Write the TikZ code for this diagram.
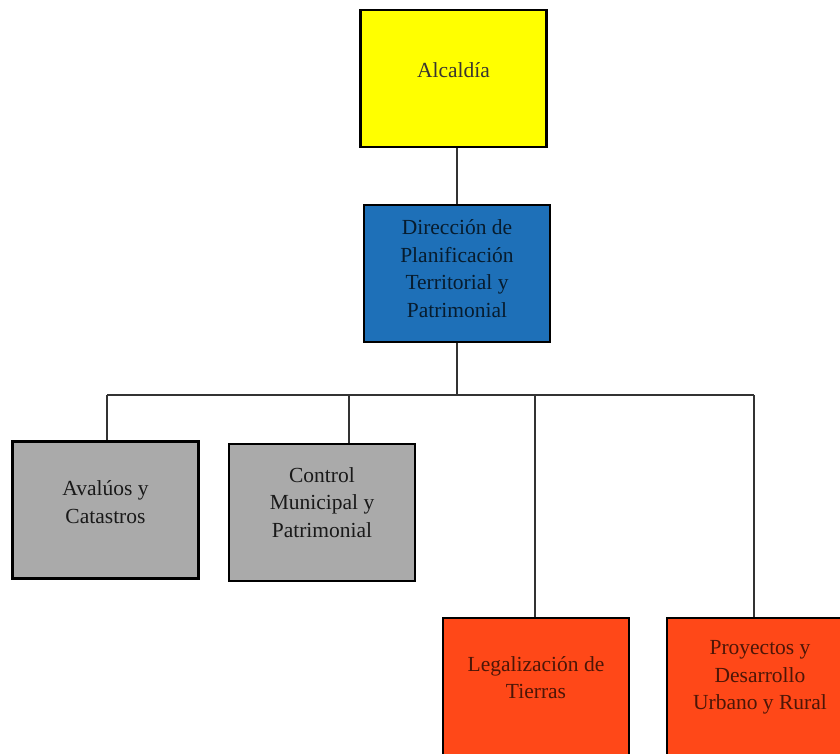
\documentclass[tikz,border=0pt]{standalone}
\usepackage{fontspec}
\setmainfont{Liberation Serif}
\begin{document}
\begin{tikzpicture}[x=1pt,y=-1pt,
  unitbox/.style={draw=black,line width=2.6pt,minimum width=186pt,minimum height=137pt,inner sep=0pt},
  unittext/.style={align=center,inner sep=0pt,font=\fontsize{21.5}{27.5}\selectfont},
  link/.style={draw=black!80,line width=1.4pt}]
\definecolor{mayor}{RGB}{255,255,0}
\definecolor{direction}{RGB}{30,112,184}
\definecolor{office}{RGB}{170,170,170}
\definecolor{field}{RGB}{255,72,24}
\useasboundingbox (0,0) rectangle (840,753);
\clip (0,0) rectangle (840,753);

% boxes
\node[unitbox,fill=mayor]     (alc) at (453.5,78.5) {};
\node[unitbox,fill=direction] (dir) at (457,273.5) {};
\node[unitbox,fill=office]    (ava) at (105.5,510) {};
\node[unitbox,fill=office]    (con) at (322,512.5) {};
\node[unitbox,fill=field]     (leg) at (536,686.5) {};
\node[unitbox,fill=field]     (pro) at (760,686.5) {};

% labels
\node[unittext,text=black!90!yellow] (alcT) at ([yshift=8pt]alc.center) {Alcaldía};
\node[unittext,text=black!75!direction] (dirT) at ([yshift=5pt]dir.center)
  {Dirección de\\Planificación\\Territorial y\\Patrimonial};
\node[unittext,text=black!90] (avaT) at ([yshift=8pt]ava.center) {Avalúos y\\Catastros};
\node[unittext,text=black!90] (conT) at ([yshift=10pt]con.center) {Control\\Municipal y\\Patrimonial};
\node[unittext,text=black!70!field] (legT) at ([yshift=9pt]leg.center) {Legalización de\\Tierras};
\node[unittext,text=black!70!field] (proT) at ([yshift=9pt]pro.center) {Proyectos y\\Desarrollo\\Urbano y Rural};

% connector bus
\coordinate (hub) at (457,395);
\coordinate (d1) at (107,395);
\coordinate (d2) at (349,395);
\coordinate (d3) at (535,395);
\coordinate (d4) at (754,395);

\draw[link] (hub |- alc.south) -- (hub |- dir.north);
\draw[link] (hub |- dir.south) -- (hub);
\draw[link] (d1) -- (d4);
\draw[link] (d1) -- (d1 |- ava.north);
\draw[link] (d2) -- (d2 |- con.north);
\draw[link] (d3) -- (d3 |- leg.north);
\draw[link] (d4) -- (d4 |- pro.north);
\end{tikzpicture}
\end{document}
